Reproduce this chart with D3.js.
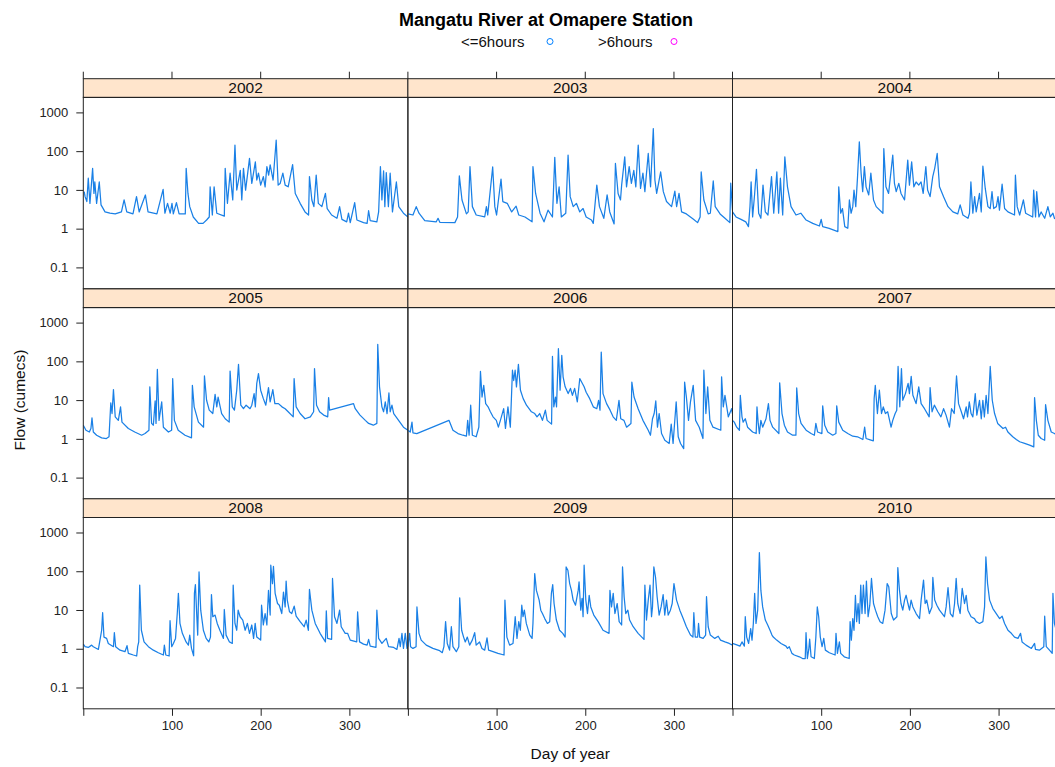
<!DOCTYPE html>
<html>
<head>
<meta charset="utf-8">
<script src="https://cdn.jsdelivr.net/npm/d3@7"></script>
<style>
  body { margin: 0; background: #fff; }
  svg { font-family: "Liberation Sans", Arial, Helvetica, sans-serif; }
</style>
</head>
<body>
<svg id="chart" width="1055" height="767"></svg>
<script>
// daily flow: [day of year, flow in cumecs]
const flow2002 = [[1,9],[2,6.7],[4,5],[5.6,20],[7.5,4.5],[10.5,36],[12,8.1],[13,16],[15,4.5],[18,16],[20,4.1],[24.5,2.7],[30,2.5],[36,2.4],[43,2.7],[46,5.5],[49,2.7],[56,2.4],[60,6.7],[63,2.7],[70,7.4],[73,2.7],[83,2.4],[90,10.3],[92,2.5],[95,4.5],[98,2.5],[100,4.5],[101.5,2.4],[105,4.7],[108,2.4],[115,2.4],[116,36],[118,8.1],[120,3.7],[124,2.0],[130,1.37],[135,1.37],[139,1.67],[142,2.0],[143,12],[145.5,2.25],[147.5,12],[150.5,2.5],[159,2.1],[160,36],[162.5,4.5],[165.5,27],[168.5,5.5],[171,143],[173,9.9],[177,32],[178.7,5.5],[180.6,36],[183,9.9],[187.4,65],[190,14.7],[194,53],[195.6,18],[197.5,27],[200,13.3],[203,22],[205,12],[207,40],[209,24],[210.7,44],[214,18],[217.5,192],[219.7,13.3],[222,14.7],[225,27],[227.6,13.3],[231,12],[236,45],[239,8.1],[244.5,4.5],[250,2.7],[254,2.25],[255,22],[257.7,5.5],[260,3.7],[262.6,24],[265,4.5],[269,3.7],[273,8.1],[275,3.3],[280,2.25],[286,1.85],[289,3.7],[291.6,1.74],[297,1.5],[299,2.5],[301,1.43],[306,4.7],[308.5,1.67],[316,1.43],[320,1.37],[321.7,2.9],[323.5,1.6],[331,1.5],[333,2.7],[335,40],[336.7,5.5],[338.6,31],[340,3.7],[341.6,28],[344,3.7],[346,27],[348.6,2.7],[353,16],[355.7,3.7],[361,2.5],[366,2.0]];
const flow2003 = [[0,2.4],[5.7,2.25],[9.4,3.7],[12.5,2.5],[19,1.6],[32,1.5],[34,1.85],[36,1.46],[53,1.43],[56,2.0],[58,23],[61,5.5],[66,2.4],[68,2.7],[70,40],[72.7,3.7],[77,2.25],[86.6,2.0],[88.5,3.7],[90,2.25],[95.6,39],[98,3.7],[100,2.25],[105,19],[107,5.0],[112,4.5],[117,2.7],[122,3.8],[125,2.25],[132,2.0],[140,1.5],[141,40],[144,8.1],[149,2.5],[153.5,1.5],[158,3.0],[163,2.0],[165.6,69],[168,4.5],[170.5,12],[173,2.0],[178,2.5],[180.6,79],[183,6.7],[186.4,3.7],[190,4.5],[193.8,2.7],[197.5,3.3],[201,2.0],[207,1.67],[209,1.37],[213,13.3],[216,3.7],[220.9,1.85],[224.6,7.4],[227.6,2.7],[232.5,1.32],[234,48],[237,8.1],[239.7,5.5],[241,13.3],[244.5,71],[246.5,12],[249.5,40],[252,14.7],[254.7,32],[257,12],[259.7,143],[262.3,10.9],[265,27],[267.2,9],[271,87],[273.6,12],[276.7,384],[278.5,18],[280.5,8.1],[285,29],[288,9],[291.6,5],[297.3,3.7],[301,9.3],[303,3.7],[305.7,8.1],[308.6,2.7],[314,2.4],[322,1.74],[326.6,1.43],[329.5,2.0],[330.7,29],[333.7,5.5],[338.6,2.4],[341,2.5],[344.3,17],[346.5,3.7],[352,2.4],[357.5,1.85],[363,1.43],[364,15],[366,3.0]];
const flow2004 = [[0,2.7],[4,2.0],[9.6,1.74],[15,1.5],[18,1.13],[19.7,3.7],[21,16],[22.7,2.0],[25,8.1],[27,34],[29.5,2.5],[32,1.85],[34.4,13.3],[37,2.7],[40,2.25],[44,22],[46.5,2.5],[50,29],[52,2.5],[54,20],[56.6,2.25],[59,71],[62,12],[66,3.7],[71.6,2.25],[77,2.5],[83,1.67],[90.5,1.37],[98,1.17],[100,1.74],[101.7,1.13],[109,1.02],[118.8,0.84],[119.8,12],[122,2.5],[124,3.3],[126.6,1.13],[130,1.02],[131.8,5.5],[133.7,2.5],[135.6,3.7],[137,9.9],[139,3.7],[141,22],[143,174],[145,27],[146.8,9],[148.7,40],[150.6,12],[153.6,7.4],[156,27],[159,5.5],[162,3.7],[169.6,2.5],[170.6,117],[173,12],[176,8.1],[180.7,79],[182.6,14.7],[184.6,9],[187.5,14.7],[190,8.1],[194,5.5],[197.6,59],[199.5,13.3],[202,53],[204.5,12],[207,16],[210,13.3],[212.6,16],[215,8.1],[218,40],[220,9.9],[222.8,6.7],[225.8,22],[228,36],[230.8,87],[233.4,12],[238,6.7],[243,3.7],[248.5,2.7],[254,2.4],[256.7,4.1],[259.8,2.25],[265.5,1.85],[267.2,2.5],[268.8,16],[271,2.5],[273,6.7],[274.8,2.7],[278.5,8.1],[280.5,2.7],[282.3,41],[285,10.9],[288,3.7],[290.6,3.3],[292.6,9],[294.5,3.3],[297.5,3.7],[299.4,6.7],[301,3.0],[304,14],[306.8,3.3],[310.6,2.7],[318,2.25],[319,24],[321,3.7],[323.8,2.25],[328,5.5],[330.5,2.5],[338.5,2.0],[339.6,9.9],[341.7,2.0],[343,9],[345.5,2.0],[348,2.7],[352,1.85],[355.6,3.7],[358.3,2.0],[361.3,2.5],[363,1.85],[366,1.74]];
const flow2005 = [[0,2.25],[3,1.67],[6.8,1.5],[8.6,1.85],[9.8,3.5],[11.3,1.5],[15,1.24],[20.7,1.06],[26,1.02],[29,1.13],[31,8.5],[32.4,4.5],[34,18.6],[36,3.7],[39.5,3.0],[42,6.7],[43.6,2.7],[50.8,1.85],[58,1.5],[65.8,1.24],[69.6,1.37],[74,1.67],[75,22],[77,2.5],[79,2.25],[81,9.5],[82,2.5],[83.5,62],[85.4,3.0],[88.4,9.0],[90.3,2.0],[96,1.5],[99.6,1.67],[100.8,36],[102.7,3.0],[107,1.67],[114.7,1.24],[122,1.06],[123,24],[125,6.7],[129.8,2.7],[135.6,2.0],[136.6,42],[139,9.9],[142,5.5],[146,4.5],[148.6,14],[150.5,6.7],[152,12],[156,4.5],[160,3.3],[164.5,2.7],[165.5,56],[168,6.7],[170.4,5.5],[173,18],[175,84],[177.6,7.4],[180.6,6.0],[183.6,7.4],[188,6.0],[190,7.4],[192.6,14.7],[194,6.7],[195.6,27],[197.5,48],[200,18],[203,10.9],[205.8,7.4],[208.8,21],[210.7,9.0],[213.7,18.6],[216,8.1],[220,8.1],[224,6.7],[227.6,6.0],[231,5.0],[236.7,3.7],[237.7,36],[240,6.7],[244.5,4.5],[250,3.3],[256,3.7],[259.7,5.0],[260.7,65],[263,7.4],[266.4,5.0],[271,4.1],[275.6,3.7],[276.6,11.6],[277.7,5.5],[304.7,8.1],[306.6,6.0],[312,4.1],[318,3.0],[321.7,2.5],[327,2.25],[331,2.5],[332,274],[334,22],[336.7,6.7],[338.6,5.0],[340.5,9.0],[342.5,4.5],[344.6,15.3],[346,5.0],[348,7.4],[350,4.5],[355.5,3.0],[361,2.0],[366,1.67]];
const flow2006 = [[0,1.67],[2.6,1.5],[4.6,2.7],[5.7,1.43],[10,1.37],[46.3,3.0],[50.8,1.67],[56.5,1.37],[62,1.24],[66,1.17],[67.4,3.0],[69,1.24],[70.8,7.4],[72.7,1.24],[77,1.13],[80,2.0],[81.8,55],[83.6,12],[85.5,24],[87.7,8.1],[90.4,6.7],[93,5.0],[96,3.7],[99.7,3.0],[102,2.0],[104.3,3.0],[108,6.0],[110,1.85],[112.8,6.7],[115.5,2.0],[117.9,59],[119.3,32],[120.9,59],[122.4,22],[124.6,84],[126.9,18],[130,10.9],[133.7,7.4],[139.3,5.0],[143,4.5],[145.6,3.7],[148.6,4.5],[151.7,3.0],[155,5.5],[157,3.0],[162,2.4],[163,134],[164.5,6.7],[166.4,12],[167.6,6.7],[169.7,212],[171.6,18],[173.5,143],[175,40],[177.3,22],[180.7,14.7],[183.3,20],[185.5,13.3],[188,20],[191,9.0],[193.8,36],[196,29],[198.7,22],[201,16],[205,10.9],[209,6.7],[213,6.0],[215,9.9],[216.6,5.5],[218,174],[220,14.7],[224,8.1],[228,5.5],[231.4,3.7],[235,3.0],[238,9.9],[240,3.3],[243.6,3.0],[246.6,2.0],[251.5,2.5],[252.5,29],[255,12],[259.6,6.0],[265,3.0],[271,1.67],[273.5,1.24],[275.8,3.3],[277.7,4.5],[279.5,9.5],[281.4,2.0],[283.3,4.5],[286,1.37],[289.7,0.92],[294.6,0.76],[296.9,2.4],[299,0.76],[302.5,9.0],[304.8,1.13],[307.4,0.76],[311,0.56],[312,29],[314,12],[316.4,3.0],[318.6,9.0],[321.7,24],[324.4,3.0],[328.5,2.0],[332.7,1.02],[333.7,59],[336,4.5],[338,22],[340.5,3.0],[344,2.0],[352.8,1.67],[353.7,40],[355.6,6.7],[357.5,13.3],[361.3,3.7],[365,6.0],[366,4.5]];
const flow2007 = [[0,3.0],[2,2.7],[4.7,2.0],[7.8,1.67],[8.8,13.3],[10.7,3.7],[12,2.7],[14.4,3.3],[17,2.0],[22.7,1.5],[26.7,1.37],[27.6,6.7],[29,2.5],[30.3,1.37],[32,3.0],[34,2.0],[37.8,3.3],[40.5,8.1],[42.3,3.0],[45.3,2.0],[52.3,1.37],[53.2,28],[55.8,4.5],[58.5,2.25],[62,1.5],[67.8,1.24],[71.5,1.24],[72.4,20.6],[74.6,4.5],[77.3,2.5],[83,1.67],[88.6,1.37],[92.3,1.24],[94,2.5],[96,1.5],[100.8,1.37],[101.7,7.1],[104,2.25],[107.4,1.5],[113,1.24],[116.6,1.37],[117.5,7.1],[119.8,2.7],[124.3,1.67],[130,1.37],[135.6,1.17],[141,1.13],[147,0.96],[149,2.0],[150.6,1.02],[154.4,0.96],[158.8,0.89],[159.7,10.9],[161,24],[163.4,4.5],[165.6,18],[168,4.5],[170,6.7],[172.4,4.5],[175,5.0],[178.8,2.0],[180.7,3.0],[183.4,4.5],[185.2,5.5],[186.7,74],[188.6,6.7],[190.5,65],[192,9.9],[195,14.7],[198,27],[199.5,14.7],[201.5,41],[203.4,13.3],[207,8.1],[210,22],[212.7,8.1],[216.5,6.0],[221.8,3.7],[222.8,21],[225,5.0],[227.6,7.4],[231.5,5.0],[235,3.7],[238,6.0],[240.8,4.1],[244.6,2.0],[247,6.0],[250,4.5],[252.6,42],[254.9,8.1],[258,5.0],[260.5,3.3],[263.5,6.7],[265,3.7],[267,9.0],[269,4.5],[271,3.7],[273.7,14.7],[275.5,4.1],[278.5,9.9],[280.5,3.3],[282.3,9.9],[284,3.7],[286,13.3],[288,4.5],[290.6,74],[292.9,9.9],[295.5,4.5],[299,2.5],[305,1.85],[307.9,2.0],[310.5,1.5],[316,1.13],[320,0.96],[323.8,0.84],[329.4,0.76],[335,0.69],[339.7,0.62],[340.6,11.6],[342.6,3.0],[344.8,1.24],[348,1.02],[352,0.92],[353,7.6],[355.6,3.0],[359.4,1.5],[363,1.37],[366,1.3]];
const flow2008 = [[0,1.32],[2,1.13],[5.6,1.08],[9.4,1.24],[11.3,1.13],[17,0.96],[18.8,1.67],[20.7,3.0],[21.8,8.5],[23.3,2.0],[26.3,1.85],[28.2,1.37],[34,1.13],[35,2.6],[36.5,1.13],[41.4,0.92],[47,0.84],[49.3,1.2],[50.8,0.76],[56.4,0.69],[60.2,0.65],[61.3,1.13],[62.5,1.5],[63.6,44],[65.5,3.0],[68.5,1.5],[73.4,1.13],[79,0.92],[84.6,0.79],[90.3,0.69],[91.4,1.24],[93,0.69],[96.8,0.65],[97.8,5.3],[99.7,1.13],[101.6,1.37],[104,1.85],[106,8.5],[107.2,27],[109,4.5],[111.7,2.5],[115.9,1.5],[118.5,1.24],[120,2.25],[122,1.02],[124.4,0.66],[125.3,27],[126.4,45],[128,6.7],[129,2.25],[130.5,96],[132.4,9.9],[135.4,3.0],[138.5,1.85],[141.5,1.5],[143.4,2.0],[144.5,25],[146,6.7],[148.6,7.4],[151,4.5],[154,3.0],[158,1.85],[159,10.3],[161,2.25],[164.8,1.5],[168,1.37],[169,44],[171,4.5],[173,3.0],[174.6,9.9],[176.8,6.7],[179.8,5.5],[182.5,3.0],[185,4.5],[187.4,2.5],[190,4.1],[192,1.85],[193.8,4.5],[195.6,2.0],[200,1.67],[201,13.3],[203,4.1],[205,8.1],[207,4.1],[208.8,32],[210.7,7.4],[211.4,143],[213.3,48],[214.4,134],[216.3,27],[219,14.7],[221,13.3],[223.8,8.1],[225.7,29],[227.6,12],[228.7,56],[230,18],[232.5,9.0],[235,8.1],[237.8,12.6],[240,6.9],[244.5,5.0],[249,3.7],[251.3,5.5],[253.8,3.0],[255,34],[257.7,9.9],[261.5,4.5],[267,2.5],[273,1.5],[274,9.5],[275.4,1.85],[280,1.74],[281,65],[283.3,6.7],[286,4.5],[289,9.9],[290.8,3.7],[295.3,2.5],[298,2.5],[301,1.67],[308.3,1.5],[309.3,9.0],[311.5,1.5],[316,1.32],[320,1.24],[321.7,1.74],[323.5,1.17],[330,1.08],[331,9.9],[333,1.85],[336.7,1.37],[341.6,1.85],[344.2,1.13],[350,1.08],[353.6,0.96],[356,1.85],[357.4,1.13],[359.3,2.5],[361,1.02],[363,2.5],[365,1.02],[366,1.13]];
const flow2009 = [[0,1.13],[2,2.5],[3,1.13],[5.7,1.02],[9.2,1.13],[10.2,12],[12.5,2.5],[15,1.67],[20.7,1.24],[28.2,1.02],[35.8,0.89],[38.8,0.79],[40.6,1.13],[42.5,5.0],[44.4,1.37],[47,0.92],[49,3.7],[50.8,1.13],[54.6,0.84],[57.4,1.13],[58.4,20.6],[60.6,3.0],[62.8,2.0],[64.7,1.5],[67,2.0],[69.6,1.24],[72.6,1.67],[75.3,2.6],[77,1.24],[80.8,1.5],[83.5,1.02],[86.6,0.92],[89.2,1.92],[91,0.92],[96,0.84],[101.6,0.76],[108.4,0.69],[109.4,18],[111.6,2.0],[114.7,1.24],[118.5,1.37],[121,6.7],[123,1.85],[125,5.0],[126.8,3.0],[128.4,13.3],[129.8,6.7],[131.3,9.9],[133.5,4.5],[137.4,2.25],[140,1.85],[141,4.5],[143,87],[144.9,32],[148,18],[149.8,9.9],[151.7,8.1],[154.3,6.0],[157.3,4.5],[159.9,5.0],[161.8,27],[163.3,45],[164.8,14.7],[167.4,5.5],[171,3.0],[174.6,2.5],[177.3,2.0],[178.4,129],[180.4,106],[182.4,48],[184.4,32],[186.3,18],[189,13.3],[192,32],[193,53],[194.9,9.9],[196.4,20],[197.5,6.7],[198.7,143],[200.6,18],[202.5,8.1],[204.4,24],[206.2,12],[209.6,7.4],[214.5,5.0],[220,3.0],[226.8,2.5],[227.8,32],[229.6,12],[231.5,27],[233.4,8.1],[236,14.7],[238.2,5.0],[241,4.1],[242,129],[243.8,22],[245.6,8.1],[248,9.9],[250,5.5],[254,3.7],[259.6,2.5],[266.2,1.74],[267.2,44],[269,5.5],[271,18],[273,44],[274.7,6.7],[275.8,12],[277.3,129],[279.2,71],[281,22],[283.3,7.4],[285.5,12],[287.8,25],[289.6,7.4],[291.6,18],[293.5,7.4],[296,9.9],[298,14.7],[300,48],[302.9,18],[306.6,9.9],[310.4,6.0],[314,3.7],[318.6,2.25],[321.4,2.0],[322.4,8.5],[324,2.0],[326.7,2.0],[327.7,4.5],[329,2.0],[332.9,1.85],[335.7,2.25],[336.7,22],[338.6,3.7],[341,2.25],[346,1.85],[349.9,2.1],[352.5,1.67],[357.5,1.5],[362.3,1.37],[366,1.24]];
const flow2010 = [[0,1.37],[5.6,1.24],[8.4,1.17],[10.7,1.5],[13.4,1.17],[14.4,6.7],[16,2.0],[18.2,1.37],[20.5,3.3],[22,1.67],[23.5,4.5],[25,27],[26.5,4.5],[28.4,9.9],[30.3,303],[32,32],[34,12],[37,5.5],[39.7,4.1],[42.3,3.0],[44.5,2.25],[46,2.0],[49.8,1.67],[54.7,1.37],[60.3,1.17],[62,1.02],[64,1.13],[67,0.76],[69.7,0.69],[75.4,0.62],[79,0.56],[82,0.56],[82.9,2.6],[84.4,0.56],[86,0.96],[87,1.77],[88.6,0.62],[92.3,0.56],[94,2.0],[95.6,12],[97.2,6.7],[99,2.0],[101,1.13],[102.9,1.85],[104.7,0.92],[109.2,0.79],[115.7,0.69],[116.7,2.5],[118.3,0.76],[120.5,1.5],[122,0.76],[126,0.62],[131.6,0.56],[132.6,5.0],[134,1.67],[135.6,6.0],[137,3.0],[138.6,24],[140,5.0],[141.6,14.7],[143,4.5],[144.6,44],[146,8.1],[147.6,44],[149.5,8.1],[151,56],[152.9,6.7],[154.8,13.3],[156.7,65],[159,14.7],[161.2,9.9],[163.8,6.7],[166.4,5.0],[169.4,4.5],[172,9.9],[174.4,48],[176.2,40],[179,8.1],[181.6,5.5],[185.4,6.7],[186.4,124],[188.3,32],[190,14.7],[192,9.9],[194,18],[195.8,24],[197.8,14.7],[199.6,9.9],[201.4,18],[203.4,12],[207,8.1],[210.9,6.0],[212.7,18],[215.4,59],[217.2,14.7],[219,18],[222,8.1],[224.9,12],[225.9,69],[228,18],[230.4,13.3],[233.4,9.9],[236.4,8.1],[239,6.7],[240.9,12],[243,38],[245.6,8.1],[248.5,6.7],[250.4,14.7],[252.2,65],[254,14.7],[256.7,8.1],[259,36],[261.6,14.7],[263.5,24],[265.4,9.9],[269,6.7],[272.8,6.0],[274.8,5.0],[278.5,4.5],[282.3,5.0],[284.2,12],[285.7,234],[287.6,48],[289.9,18],[293.6,10.9],[297.4,8.1],[301.2,6.0],[304,6.9],[306.8,4.5],[310.6,3.0],[314.4,2.5],[318,2.0],[321.9,1.85],[324.8,2.5],[326.5,1.5],[331,1.24],[337,1.02],[340.6,1.37],[341.6,0.96],[346,0.92],[351,1.13],[352,6.9],[353.8,1.13],[357.4,0.92],[360.5,0.76],[361.3,27],[363,4.5],[366,2.5]];

const years = [2002, 2003, 2004, 2005, 2006, 2007, 2008, 2009, 2010];
const seriesList = [flow2002, flow2003, flow2004, flow2005, flow2006, flow2007, flow2008, flow2009, flow2010];
const xTicks = [0, 100, 200, 300];
const xTickLabels = ["", "100", "200", "300"];
const yTicks = [0.1, 1, 10, 100, 1000];
const yTickLabels = ["0.1", "1", "10", "100", "1000"];
const legendLabels = ["<=6hours", ">6hours"];
const legendColors = ["#0080ff", "#ff00ff"];

const svg = d3.select("#chart");
const ink = "#222";

// lattice layout: 3 columns x 3 rows, strip on top of each panel
const colX = [83.3, 407.9, 732.5];
const panelW = 324.6;
const rowTop = [78.7, 288.9, 498.8];
const stripH = 18.7;
const plotH = 191.3;

const x = d3.scaleLinear().domain([0, 366]).range([0, panelW]);
const y = d3.scaleLog().domain([0.0282, 2438]).range([plotH, 0]);

const line = d3.line()
  .x((d) => x(d[0]))
  .y((d) => y(d[1]));

svg.append("rect").attr("width", 1055).attr("height", 767).attr("fill", "#fff");

years.forEach((yr, i) => {
  const col = i % 3;
  const row = Math.floor(i / 3);
  const g = svg.append("g")
    .attr("transform", `translate(${colX[col]},${rowTop[row]})`);

  // strip
  g.append("rect")
    .attr("width", panelW).attr("height", stripH)
    .attr("fill", "#ffe5cc").attr("stroke", ink).attr("stroke-width", 1);
  g.append("text")
    .attr("x", panelW / 2).attr("y", 14.6)
    .attr("text-anchor", "middle")
    .style("font-size", "15.5px").attr("fill", "#111")
    .text(yr);

  const p = g.append("g").attr("transform", `translate(0,${stripH})`);
  p.append("clipPath").attr("id", `clip${yr}`)
    .append("rect").attr("width", panelW).attr("height", plotH);

  p.append("path")
    .datum(seriesList[i])
    .attr("clip-path", `url(#clip${yr})`)
    .attr("fill", "none")
    .attr("stroke", "#1a80e6")
    .attr("stroke-width", 1.25)
    .attr("stroke-linejoin", "round")
    .attr("d", line);

  p.append("rect")
    .attr("width", panelW).attr("height", plotH)
    .attr("fill", "none").attr("stroke", ink).attr("stroke-width", 1);

  // top ticks on the first row
  if (row === 0) {
    g.selectAll(".tt").data(xTicks).enter().append("line")
      .attr("x1", (d) => x(d)).attr("x2", (d) => x(d))
      .attr("y1", 0).attr("y2", -7)
      .attr("stroke", ink);
  }

  // bottom axis on the last row
  if (row === 2) {
    const ax = p.append("g")
      .attr("transform", `translate(0,${plotH})`)
      .call(d3.axisBottom(x).tickValues(xTicks)
        .tickFormat((d, k) => xTickLabels[k]).tickSize(7).tickSizeOuter(0));
    ax.select(".domain").remove();
    ax.selectAll("line").attr("stroke", ink);
    ax.selectAll("text").style("font-size", "13px").attr("fill", "#222").attr("dy", "0.9em");
  }

  // left axis on the first column
  if (col === 0) {
    const ay = p.append("g")
      .call(d3.axisLeft(y).tickValues(yTicks)
        .tickFormat((d, k) => yTickLabels[k]).tickSize(7).tickSizeOuter(0));
    ay.select(".domain").remove();
    ay.selectAll("line").attr("stroke", ink);
    ay.selectAll("text").style("font-size", "13px").attr("fill", "#222").attr("x", -15);
  }
});

// title and legend
svg.append("text")
  .attr("x", 546).attr("y", 26)
  .attr("text-anchor", "middle")
  .style("font-size", "18px").style("font-weight", "bold")
  .text("Mangatu River at Omapere Station");

const legendTextX = [461, 598];
const legendDotX = [550, 674];
legendLabels.forEach((lab, k) => {
  svg.append("text")
    .attr("x", legendTextX[k]).attr("y", 46.5)
    .style("font-size", "15px").attr("fill", "#111")
    .text(lab);
  svg.append("circle")
    .attr("cx", legendDotX[k]).attr("cy", 41.5).attr("r", 3)
    .attr("fill", "none").attr("stroke", legendColors[k]).attr("stroke-width", 1);
});

// axis titles
svg.append("text")
  .attr("x", colX[0] + 1.5 * panelW).attr("y", 759)
  .attr("text-anchor", "middle")
  .style("font-size", "15.5px").attr("fill", "#111")
  .text("Day of year");

svg.append("text")
  .attr("transform", "translate(25,400) rotate(-90)")
  .attr("text-anchor", "middle")
  .style("font-size", "15.5px").attr("fill", "#111")
  .text("Flow (cumecs)");
</script>
</body>
</html>
